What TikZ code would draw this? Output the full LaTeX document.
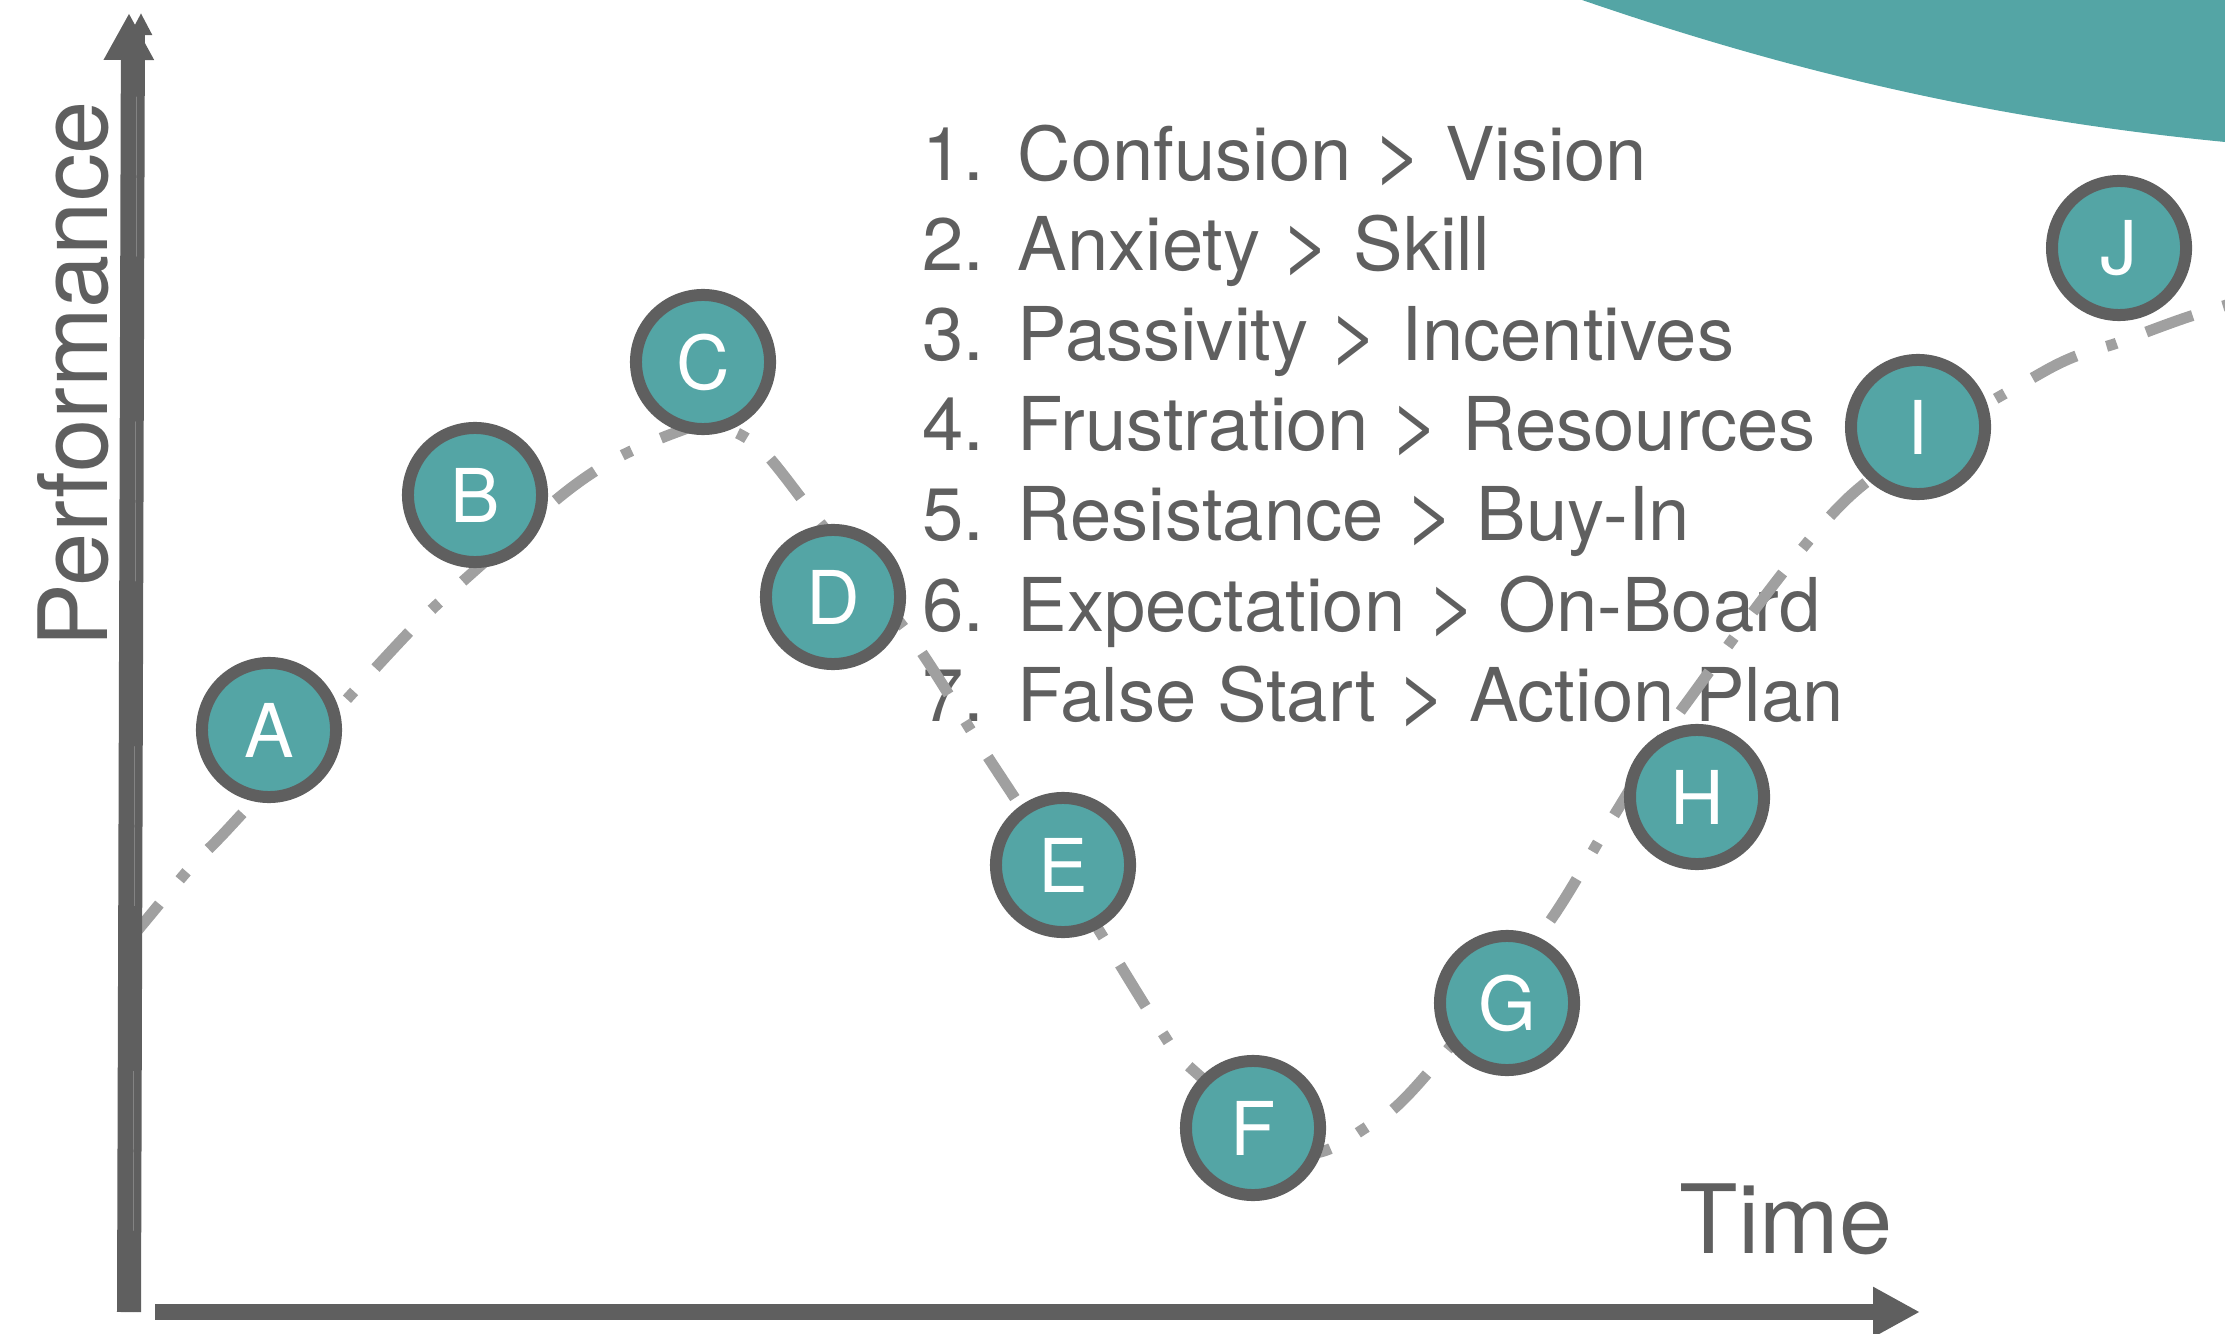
\documentclass[tikz,border=0pt]{standalone}
\usepackage{fontspec}
\usepackage{graphicx}
\setmainfont{TeX Gyre Heros}
\usetikzlibrary{arrows.meta}
\definecolor{axisgray}{RGB}{95,95,95}
\definecolor{dashgray}{RGB}{160,160,160}
\definecolor{tealfill}{RGB}{84,165,165}
\newcommand{\gtsign}{\scalebox{1.2}[1.05]{>}}

\begin{document}
\begin{tikzpicture}[x=0.01cm, y=-0.01cm, every node/.style={font=\fontsize{21.1}{25}\selectfont}]
	\tikzstyle{stage} = [circle, draw=axisgray, fill=tealfill, line width=0.12cm, minimum size=1.34cm, inner sep=0pt, text=white]
	\tikzstyle{stepnum} = [anchor=base west, inner sep=0pt, text width=0.95cm, text height=0.6cm, text depth=0.2cm, text=axisgray]
	\tikzstyle{steptext} = [anchor=base west, inner sep=0pt, text height=0.6cm, text depth=0.2cm, text=axisgray]
	\tikzstyle{axislabel} = [inner sep=0pt, text=axisgray, font=\fontsize{27.2}{30}\selectfont]
	\tikzstyle{axis} = [draw=axisgray, fill=axisgray, line width=0.16cm]
	\tikzstyle{trend} = [draw=dashgray, line width=0.11cm, dash pattern=on 14pt off 9pt on 3pt off 9pt]
	\useasboundingbox (0,0) rectangle (2225,1334);
	% teal corner
	\fill[tealfill] (1582,0) .. controls (1800,75) and (2000,120) .. (2225,142) -- (2225,0) -- cycle;
	% list of steps
	\matrix (steps) [anchor=north west, inner sep=0pt, row sep=0.1cm, column sep=0pt] at (922,120)
	{
	\node [stepnum] (n1) {1.}; & \node [steptext] (s1) {Confusion \gtsign{} Vision}; \\
	\node [stepnum] (n2) {2.}; & \node [steptext] (s2) {Anxiety \gtsign{} Skill}; \\
	\node [stepnum] (n3) {3.}; & \node [steptext] (s3) {Passivity \gtsign{} Incentives}; \\
	\node [stepnum] (n4) {4.}; & \node [steptext] (s4) {Frustration \gtsign{} Resources}; \\
	\node [stepnum] (n5) {5.}; & \node [steptext] (s5) {Resistance \gtsign{} Buy-In}; \\
	\node [stepnum] (n6) {6.}; & \node [steptext] (s6) {Expectation \gtsign{} On-Board}; \\
	\node [stepnum] (n7) {7.}; & \node [steptext] (s7) {False Start \gtsign{} Action Plan}; \\
	};
	% performance curve
	\begin{scope}
	\clip (0,0) rectangle (2225,1334);
	\draw[trend] plot[smooth, tension=0.5] coordinates {(128,942) (189,869) (227,830) (337,710) (413,628) (462,582) (562,495) (617,458) (677,432) (712,424) (760,448) (818,520) (913,640) (982,748) (1063,872) (1158,1026) (1193,1070) (1300,1152) (1370,1125) (1420,1082) (1545,928) (1613,817) (1685,705) (1849,497) (2043,372) (2120,342) (2185,318) (2250,298)};
	\end{scope}
	% axes
	\coordinate (origin) at (125,1312);
	\coordinate (ytop) at (129,13);
	\coordinate (xend) at (1920,1312);
	\draw[axis, -{Triangle[length=0.47cm, width=0.47cm]}] (origin) -- (ytop);
	\draw[axis, line width=0.08cm, -{Triangle[length=0.22cm, width=0.21cm]}] (137,1312) -- (141,13);
	\draw[axis, -{Triangle[length=0.47cm, width=0.47cm]}] (155,1312) -- (xend);
	\node[axislabel, rotate=90, anchor=base] (perf) at (107,374) {Performance};
	\node[axislabel, anchor=base west] (time) at (1679,1253) {Time};
	% stages
	\node [stage] (a) at (269,730) {A};
	\node [stage] (b) at (475,495) {B};
	\node [stage] (c) at (703,362) {C};
	\node [stage] (d) at (833,597) {D};
	\node [stage] (e) at (1063,865) {E};
	\node [stage] (f) at (1253,1128) {F};
	\node [stage] (g) at (1507,1003) {G};
	\node [stage] (h) at (1697,797) {H};
	\node [stage] (i) at (1918,427) {I};
	\node [stage] (j) at (2119,248) {J};
\end{tikzpicture}
\end{document}
